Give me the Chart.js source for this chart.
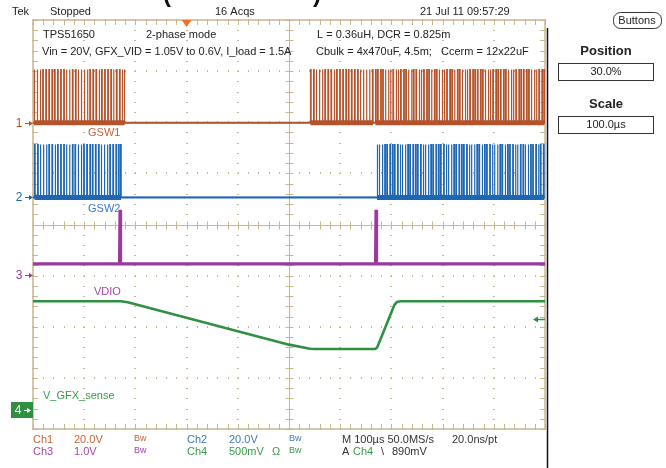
<!DOCTYPE html>
<html>
<head>
<meta charset="utf-8">
<script src="https://cdn.jsdelivr.net/npm/chart.js@4/dist/chart.umd.min.js"></script>
<style>
html, body { margin: 0; padding: 0; background: #fff; }
#wrap { position: relative; width: 666px; height: 468px; }
</style>
</head>
<body>
<div id="wrap"><canvas id="scope" width="666" height="468"></canvas></div>
<script>
// time base 100us/div, horizontal position 30% -> -300..700 us
const timeTicks = [-300, -200, -100, 0, 100, 200, 300, 400, 500, 600, 700];
const divTicks = [-4, -3, -2, -1, 0, 1, 2, 3, 4];

// channel settings: V/div and ground marker offset in divisions
const chScale = [20, 20, 1, 0.5];
const chOffset = [1.99, 0.53, -0.99, -3.63];

// GSW1 (ch1) switching pulses, start times in us
const gsw1BurstA = [-298, -292, -286, -281, -275, -269, -263, -258, -252, -246, -240, -235, -229, -223, -217,
  -212, -206, -200, -194, -189, -183, -177, -171, -166, -160, -154, -148, -143, -137, -131, -126, -122];
const gsw1BurstB = [242, 248, 253, 259, 265, 270, 276, 282, 288, 293, 299, 305, 311, 316, 322, 328, 334, 339,
  345, 351, 357, 363];
const gsw1BurstC = [369, 373, 379, 383, 388, 394, 398, 403, 409, 413, 418, 424, 428, 433, 439, 443, 448, 454,
  458, 463, 469, 473, 478, 484, 488, 493, 499, 503, 508, 514, 518, 523, 529, 533, 538, 544, 548, 553, 559, 563,
  568, 574, 578, 583, 589, 593, 598, 604, 608, 613, 619, 623, 628, 634, 638, 643, 649, 653, 658, 664, 668, 673,
  679, 683, 688, 694, 698];
const gsw1High = 20.8;

// GSW2 (ch2) switching pulses
const gsw2BurstA = [-297, -291, -286, -280, -274, -269, -263, -257, -252, -246, -240, -235, -229, -223, -218,
  -212, -206, -201, -195, -189, -184, -178, -172, -167, -161, -155, -150, -144, -138, -133, -129];
const gsw2BurstB = [372, 376, 382, 387, 391, 397, 402, 406, 412, 417, 421, 427, 432, 436, 442, 447, 451, 457,
  462, 466, 472, 477, 481, 487, 492, 496, 502, 507, 511, 517, 522, 526, 532, 537, 541, 547, 552, 556, 562, 567,
  571, 577, 582, 586, 592, 597, 601, 607, 612, 616, 622, 627, 631, 637, 642, 646, 652, 657, 661, 667, 672, 676,
  682, 687, 691, 697];
const gsw2High = 20.7;

// VDIO (ch3)
const vdioTimes = [-300, -131, -130, -129, 369, 370, 371, 700];
const vdioVolts = [0.22, 0.22, 1.28, 0.22, 0.22, 1.28, 0.22, 0.22];

// V_GFX_sense (ch4)
const vgfxTimes = [-300, -128, -115, 200, 241, 252, 368, 372, 406, 411, 418, 700];
const vgfxVolts = [1.065, 1.065, 1.055, 0.64, 0.60, 0.597, 0.597, 0.61, 1.03, 1.058, 1.065, 1.065];

const trigLevel = 0.89;

const colors = {
  ch1: '#b4532b', ch2: '#1f66b2', ch3: '#9c399c', ch4: '#2e9040',
  ch1Text: '#c4643a', ch2Text: '#3b78c8', ch3Text: '#a346a8', ch4Text: '#379a4a',
  grid: '#c8b68f', trig: '#f0702a'
};

const toDiv = (ch, v) => chOffset[ch] + v / chScale[ch];

function pulseTrace(ch, bursts, high) {
  const pts = [{ x: -300, y: toDiv(ch, 0) }];
  bursts.forEach(b => b.forEach(t => {
    pts.push({ x: t, y: toDiv(ch, 0) }, { x: t, y: toDiv(ch, high) },
      { x: t + 1.2, y: toDiv(ch, high) }, { x: t + 1.2, y: toDiv(ch, 0) });
  }));
  pts.push({ x: 700, y: toDiv(ch, 0) });
  return pts;
}

function noiseBand(ch, bursts) {
  const pts = [];
  bursts.forEach(b => {
    pts.push({ x: b[0], y: toDiv(ch, 0) }, { x: b[b.length - 1] + 1, y: toDiv(ch, 0) }, { x: b[b.length - 1] + 2, y: null });
  });
  return pts;
}

const idle = ch => [{ x: -300, y: toDiv(ch, 0) }, { x: 700, y: toDiv(ch, 0) }];

const vdioData = vdioTimes.map((t, i) => ({ x: t, y: toDiv(2, vdioVolts[i]) }));
const vgfxData = vgfxTimes.map((t, i) => ({ x: t, y: toDiv(3, vgfxVolts[i]) }));

function line(ctx, x1, y1, x2, y2) {
  ctx.beginPath(); ctx.moveTo(x1, y1); ctx.lineTo(x2, y2); ctx.stroke();
}

const graticule = {
  id: 'graticule',
  beforeDatasetsDraw(chart) {
    const { ctx, chartArea: a, scales: { x, y } } = chart;
    ctx.save();
    ctx.fillStyle = colors.grid;
    ctx.strokeStyle = colors.grid;
    // dotted division lines
    timeTicks.forEach(t => {
      const px = Math.round(x.getPixelForValue(t));
      for (let i = 0; i <= 40; i++) {
        ctx.fillRect(px - 1, Math.round(y.getPixelForValue(-4 + i * 0.2)), 2, 1);
      }
    });
    divTicks.forEach(v => {
      const py = Math.round(y.getPixelForValue(v));
      for (let i = 0; i <= 50; i++) {
        ctx.fillRect(Math.round(x.getPixelForValue(-300 + i * 20)), py - 1, 1, 2);
      }
    });
    ctx.lineWidth = 1.5;
    ctx.strokeRect(a.left, a.top, a.width, a.height);
    const cx = Math.round(x.getPixelForValue(200)) + 0.5;
    const cy = Math.round(y.getPixelForValue(0)) + 0.5;
    ctx.lineWidth = 1;
    line(ctx, cx, a.top, cx, a.bottom);
    line(ctx, a.left, cy, a.right, cy);
    for (let i = 0; i <= 50; i++) {
      const px = Math.round(x.getPixelForValue(-300 + i * 20)) + 0.5;
      line(ctx, px, a.top, px, a.top + 5);
      line(ctx, px, a.bottom - 5, px, a.bottom);
      line(ctx, px, cy - 4, px, cy + 4);
    }
    for (let i = 0; i <= 40; i++) {
      const py = Math.round(y.getPixelForValue(-4 + i * 0.2)) + 0.5;
      line(ctx, a.left, py, a.left + 5, py);
      line(ctx, a.right - 5, py, a.right, py);
      line(ctx, cx - 4, py, cx + 4, py);
    }
    ctx.restore();
  }
};

function txt(ctx, s, x, y, color, font, align) {
  ctx.fillStyle = color;
  ctx.font = font || '11px "Liberation Sans", Arial, sans-serif';
  ctx.textAlign = align || 'left';
  ctx.textBaseline = 'middle';
  ctx.fillText(s, x, y);
}

function marker(ctx, label, py, color) {
  txt(ctx, label, 19, py + 1, color, '12px "Liberation Sans", Arial, sans-serif', 'center');
  ctx.strokeStyle = color; ctx.fillStyle = color; ctx.lineWidth = 1;
  line(ctx, 25, py + 0.5, 32, py + 0.5);
  ctx.beginPath(); ctx.moveTo(33, py + 0.5); ctx.lineTo(29, py - 2); ctx.lineTo(29, py + 3); ctx.closePath(); ctx.fill();
}

const overlay = {
  id: 'overlay',
  afterDraw(chart) {
    const { ctx, chartArea: a, scales: { x, y } } = chart;
    const F = '11px "Liberation Sans", Arial, sans-serif';
    const black = '#222';
    ctx.save();
    // cut-off title fragments
    txt(ctx, '(', 163, -5, '#111', 'bold 24px "Liberation Sans", Arial, sans-serif');
    txt(ctx, ')', 313, -5, '#111', 'bold 24px "Liberation Sans", Arial, sans-serif');
    // header
    txt(ctx, 'Tek', 12, 12, black, F);
    txt(ctx, 'Stopped', 50, 12, black, F);
    txt(ctx, '16 Acqs', 215, 12, black, F);
    txt(ctx, '21 Jul 11 09:57:29', 420, 12, black, F);
    // trigger position
    const tx = x.getPixelForValue(0);
    ctx.fillStyle = colors.trig;
    ctx.beginPath(); ctx.moveTo(tx - 5, a.top); ctx.lineTo(tx + 5, a.top); ctx.lineTo(tx, a.top + 7); ctx.closePath(); ctx.fill();
    // notes
    txt(ctx, 'TPS51650', 43, 35, black, F);
    txt(ctx, '2-phase mode', 146, 35, black, F);
    txt(ctx, 'Vin = 20V, GFX_VID = 1.05V to 0.6V, I_load = 1.5A', 42, 52, black, F);
    txt(ctx, 'L = 0.36uH, DCR = 0.825m', 317, 35, black, F);
    txt(ctx, 'Cbulk = 4x470uF, 4.5m;   Ccerm = 12x22uF', 316, 52, black, F);
    // trace labels
    txt(ctx, 'GSW1', 88, 133, colors.ch1Text, F);
    txt(ctx, 'GSW2', 88, 209, colors.ch2Text, F);
    txt(ctx, 'VDIO', 94, 292, colors.ch3Text, F);
    txt(ctx, 'V_GFX_sense', 43, 396, colors.ch4Text, F);
    // ground markers
    marker(ctx, '1', Math.round(y.getPixelForValue(chOffset[0])), colors.ch1);
    marker(ctx, '2', Math.round(y.getPixelForValue(chOffset[1])), colors.ch2);
    marker(ctx, '3', Math.round(y.getPixelForValue(chOffset[2])), colors.ch3);
    const p4 = Math.round(y.getPixelForValue(chOffset[3]));
    ctx.fillStyle = colors.ch4;
    ctx.fillRect(11, p4 - 8, 22, 16);
    txt(ctx, '4', 18, p4 + 1, '#fff', '12px "Liberation Sans", Arial, sans-serif', 'center');
    ctx.strokeStyle = '#fff'; ctx.fillStyle = '#fff';
    line(ctx, 24, p4 + 0.5, 30, p4 + 0.5);
    ctx.beginPath(); ctx.moveTo(31, p4 + 0.5); ctx.lineTo(27, p4 - 2); ctx.lineTo(27, p4 + 3); ctx.closePath(); ctx.fill();
    // trigger level arrow
    const ty = Math.round(y.getPixelForValue(toDiv(3, trigLevel))) + 0.5;
    ctx.strokeStyle = colors.ch4; ctx.fillStyle = colors.ch4; ctx.lineWidth = 1.5;
    line(ctx, 535, ty, 545, ty);
    ctx.beginPath(); ctx.moveTo(533, ty); ctx.lineTo(538, ty - 3); ctx.lineTo(538, ty + 3); ctx.closePath(); ctx.fill();
    // right frame line
    ctx.strokeStyle = '#111'; ctx.lineWidth = 1.5;
    line(ctx, 547.5, 28, 547.5, 468);
    // bottom status
    const r1 = 440, r2 = 452;
    const bw = '9px "Liberation Sans", Arial, sans-serif';
    txt(ctx, 'Ch1', 33, r1, colors.ch1Text, F);
    txt(ctx, '20.0V', 74, r1, colors.ch1Text, F);
    txt(ctx, 'Bw', 134, r1 - 1, colors.ch1Text, bw);
    txt(ctx, 'Ch2', 187, r1, colors.ch2Text, F);
    txt(ctx, '20.0V', 229, r1, colors.ch2Text, F);
    txt(ctx, 'Bw', 289, r1 - 1, colors.ch2Text, bw);
    txt(ctx, 'M 100\u00b5s 50.0MS/s', 342, r1, '#333', F);
    txt(ctx, '20.0ns/pt', 452, r1, '#333', F);
    txt(ctx, 'Ch3', 33, r2, colors.ch3Text, F);
    txt(ctx, '1.0V', 74, r2, colors.ch3Text, F);
    txt(ctx, 'Bw', 134, r2 - 1, colors.ch3Text, bw);
    txt(ctx, 'Ch4', 187, r2, colors.ch4Text, F);
    txt(ctx, '500mV', 229, r2, colors.ch4Text, F);
    txt(ctx, '\u03a9', 272, r2, colors.ch4Text, F);
    txt(ctx, 'Bw', 289, r2 - 1, colors.ch4Text, bw);
    txt(ctx, 'A', 342, r2, '#333', F);
    txt(ctx, 'Ch4', 353, r2, colors.ch4Text, F);
    txt(ctx, '\\', 381, r2, '#333', F);
    txt(ctx, '890mV', 392, r2, '#333', F);
    // side panel
    ctx.strokeStyle = '#333'; ctx.lineWidth = 1;
    ctx.beginPath();
    ctx.roundRect(613.5, 12.5, 48, 16, 7);
    ctx.stroke();
    txt(ctx, 'Buttons', 637, 21, black, F, 'center');
    const bold = 'bold 13px "Liberation Sans", Arial, sans-serif';
    txt(ctx, 'Position', 606, 51, black, bold, 'center');
    ctx.strokeRect(558.5, 63.5, 95, 17);
    txt(ctx, '30.0%', 606, 72, black, F, 'center');
    txt(ctx, 'Scale', 606, 104, black, bold, 'center');
    ctx.strokeRect(558.5, 116.5, 95, 17);
    txt(ctx, '100.0\u00b5s', 606, 125, black, F, 'center');
    ctx.restore();
  }
};

new Chart(document.getElementById('scope'), {
  type: 'line',
  data: {
    datasets: [
      { label: 'GSW1 idle', data: idle(0), borderColor: colors.ch1, borderWidth: 2 },
      { label: 'GSW1 band', data: noiseBand(0, [gsw1BurstA, gsw1BurstB, gsw1BurstC]), borderColor: colors.ch1, borderWidth: 5, spanGaps: false },
      { label: 'GSW1', data: pulseTrace(0, [gsw1BurstA, gsw1BurstB, gsw1BurstC], gsw1High), borderColor: colors.ch1, borderWidth: 1.2 },
      { label: 'GSW2 idle', data: idle(1), borderColor: colors.ch2, borderWidth: 2 },
      { label: 'GSW2 band', data: noiseBand(1, [gsw2BurstA, gsw2BurstB]), borderColor: colors.ch2, borderWidth: 5, spanGaps: false },
      { label: 'GSW2', data: pulseTrace(1, [gsw2BurstA, gsw2BurstB], gsw2High), borderColor: colors.ch2, borderWidth: 1.2 },
      { label: 'VDIO', data: vdioData, borderColor: colors.ch3, borderWidth: 3.2 },
      { label: 'V_GFX_sense', data: vgfxData, borderColor: colors.ch4, borderWidth: 2.6 }
    ]
  },
  options: {
    responsive: false,
    animation: false,
    events: [],
    layout: { padding: { left: 33, top: 20, right: 121, bottom: 39 } },
    elements: { point: { radius: 0 }, line: { tension: 0, borderJoinStyle: 'miter' } },
    scales: {
      x: { type: 'linear', min: -300, max: 700, display: false },
      y: { type: 'linear', min: -4, max: 4, display: false }
    },
    plugins: { legend: { display: false }, tooltip: { enabled: false } }
  },
  plugins: [graticule, overlay]
});
</script>
</body>
</html>
